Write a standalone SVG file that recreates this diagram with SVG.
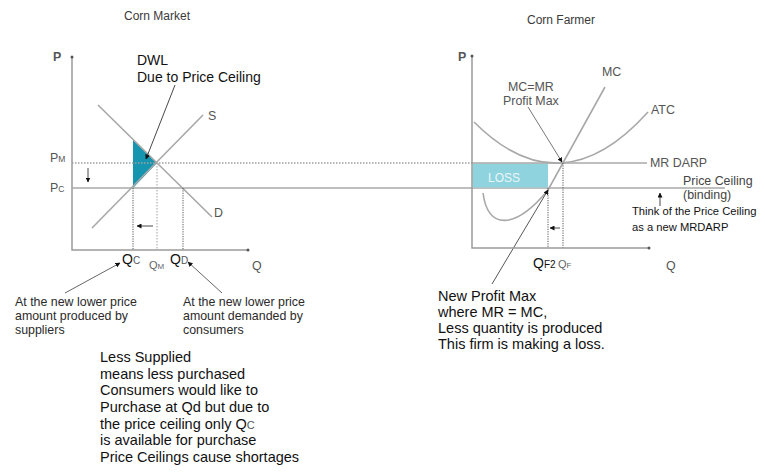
<svg xmlns="http://www.w3.org/2000/svg" width="765" height="472" viewBox="0 0 765 472">
<style>
text{font-family:"Liberation Sans",Arial,sans-serif}
.title{font-size:12px;fill:#3a3a3a}
.lab{font-size:12.4px;fill:#555}
.ax{stroke:#9a9a9a;stroke-width:1.5;fill:none}
.cur{stroke:#a8a8a8;stroke-width:1.6;fill:none}
.dot{stroke:#555;stroke-width:1;stroke-dasharray:1.2,1.2;fill:none}
.dotg{stroke:#a0a0a0;stroke-width:1.5;stroke-dasharray:1.5,1.5;fill:none}
.ann{stroke:#333;stroke-width:0.9;fill:none}
.note{font-size:12.4px;fill:#2a2a2a}
.big{font-size:14.5px;fill:#111}
.small{font-size:11.2px;fill:#111}
</style>
<defs>
<marker id="ah" viewBox="0 0 10 10" refX="9" refY="5" markerWidth="5" markerHeight="5" markerUnits="userSpaceOnUse" orient="auto">
<path d="M0,0 L10,5 L0,10 z" fill="#111"/>
</marker>
</defs>

<g id="titles">
<text class="title" x="124" y="20">Corn Market</text>
<text class="title" x="527" y="24">Corn Farmer</text>
</g>

<!-- Left graph -->
<g id="left-axes">
<path class="ax" d="M72,57 V250 H248"/>
<circle cx="72" cy="57" r="1.5" fill="#555"/>
<circle cx="248" cy="250" r="1.5" fill="#555"/>
<text class="lab" x="53" y="61" style="font-weight:bold">P</text>
<text class="lab" x="252" y="270">Q</text>
</g>

<g id="dwl">
<polygon points="133,140 157,163 133,188" fill="#1595b0"/>
</g>

<g id="connectors">
<!-- market price lines -->
<path class="dotg" d="M72,163 H472"/>
<path class="cur" d="M72,188 H725"/>
<!-- supply & demand -->
<path class="cur" d="M92,228 L203,115"/>
<path class="cur" d="M98,105 L212,217"/>
<!-- quantity drops -->
<path class="dot" d="M133,188 V250"/>
<path class="dotg" style="stroke-width:1" d="M157,163 V250"/>
<path class="dot" d="M183,188 V250"/>
<!-- small arrows -->
<path class="ann" d="M88,168 V182" marker-end="url(#ah)"/>
<path class="ann" d="M153,226 H137" marker-end="url(#ah)"/>
<!-- DWL pointer -->
<path class="ann" d="M175,85 L146,159" marker-end="url(#ah)"/>
<!-- bottom pointers -->
<path class="ann" style="stroke:#555" d="M65,293 L120,263" marker-end="url(#ah)"/>
<path class="ann" style="stroke:#555" d="M222,293 L188,262" marker-end="url(#ah)"/>

<!-- right graph curves -->
<path class="cur" d="M474,122 Q561,209 648,112"/>
<path class="cur" d="M483,193 C488,230 515,230 548,190 L605,87"/>
<rect x="472.5" y="163.5" width="75.5" height="24" fill="#8fd3de"/>
<path class="cur" d="M472,163 H647"/>
<path class="dot" d="M563,163 V248"/>
<path class="dot" d="M548,188 V248"/>
<path class="ann" d="M560,228 H550" marker-end="url(#ah)"/>
<path class="ann" d="M660,206 V193" marker-end="url(#ah)"/>
<path class="ann" style="stroke:#666" d="M528,107 L562,162" marker-end="url(#ah)"/>
<path class="ann" style="stroke:#444" d="M492,284 L548,190" marker-end="url(#ah)"/>
</g>

<g id="left-labels">
<text x="137" y="65" style="font-size:14px;fill:#111">DWL</text>
<text x="137" y="82" style="font-size:14px;fill:#111">Due to Price Ceiling</text>
<text class="lab" x="208" y="120">S</text>
<text class="lab" x="214" y="217">D</text>
<text class="lab" x="50" y="162">P<tspan style="font-size:8.5px">M</tspan></text>
<text class="lab" x="50" y="192">P<tspan style="font-size:8.5px">C</tspan></text>
<text x="122" y="264" style="font-size:14px;fill:#111">Q<tspan style="font-size:10px;fill:#555">C</tspan></text>
<text x="149" y="269" style="font-size:11px;fill:#666">Q<tspan style="font-size:8px">M</tspan></text>
<text x="170" y="264" style="font-size:14px;fill:#111">Q<tspan style="font-size:10px;fill:#555">D</tspan></text>
</g>

<g id="right-axes">
<path class="ax" d="M472,56 V248 H649"/>
<circle cx="472" cy="56" r="1.5" fill="#555"/>
<circle cx="649" cy="248" r="1.5" fill="#555"/>
<text class="lab" x="458" y="61" style="font-weight:bold">P</text>
<text class="lab" x="666" y="270">Q</text>
</g>

<g id="right-labels">
<text x="488" y="182" style="font-size:12px;fill:#eaf7f9">LOSS</text>
<text class="lab" x="602" y="76">MC</text>
<text class="lab" x="508" y="91">MC=MR</text>
<text class="lab" x="503" y="105">Profit Max</text>
<text class="lab" x="651" y="114">ATC</text>
<text class="lab" x="650" y="167">MR DARP</text>
<text class="lab" x="683" y="185" style="fill:#444">Price Ceiling</text>
<text class="lab" x="683" y="199" style="fill:#444">(binding)</text>
<text x="533" y="268" style="font-size:14px;fill:#111">Q<tspan style="font-size:10px">F2</tspan></text>
<text x="558" y="268" style="font-size:11px;fill:#666">Q<tspan style="font-size:8px">F</tspan></text>
<text class="small" x="632" y="215">Think of the Price Ceiling</text>
<text class="small" x="632" y="231">as a new MRDARP</text>
</g>

<g id="note-supplied">
<text class="note" x="15" y="306">At the new lower price</text>
<text class="note" x="15" y="320">amount produced by</text>
<text class="note" x="15" y="334">suppliers</text>
</g>
<g id="note-demanded">
<text class="note" x="183" y="306">At the new lower price</text>
<text class="note" x="183" y="320">amount demanded by</text>
<text class="note" x="183" y="334">consumers</text>
</g>

<g id="note-shortage">
<text class="big" x="100" y="362">Less Supplied</text>
<text class="big" x="100" y="379">means less purchased</text>
<text class="big" x="100" y="395">Consumers would like to</text>
<text class="big" x="100" y="412">Purchase at Qd but due to</text>
<text class="big" x="100" y="429">the price ceiling only Q<tspan style="font-size:11px;fill:#555">C</tspan></text>
<text class="big" x="100" y="445">is available for purchase</text>
<text class="big" x="100" y="462">Price Ceilings cause shortages</text>
</g>

<g id="note-profit">
<text class="big" x="438" y="301">New Profit Max</text>
<text class="big" x="438" y="317">where MR = MC,</text>
<text class="big" x="438" y="333">Less quantity is produced</text>
<text class="big" x="438" y="349">This firm is making a loss.</text>
</g>
</svg>
